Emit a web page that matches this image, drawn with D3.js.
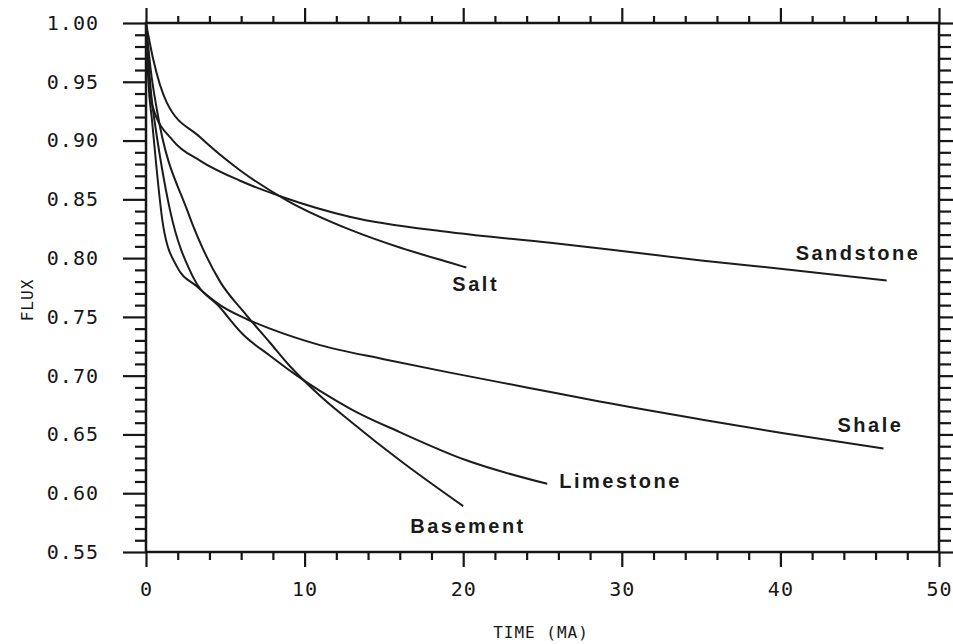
<!DOCTYPE html>
<html>
<head>
<meta charset="utf-8">
<script src="https://cdn.jsdelivr.net/npm/d3@7"></script>
<style>
  body { margin: 0; background: #fff; }
  .tick text { font-family: "DejaVu Sans Mono", monospace; font-size: 20px; letter-spacing: 1px; fill: #161616; }
  .tick line { stroke: #161616; stroke-width: 2.2px; }
  .domain { display: none; }
  .curve-label { font-family: "Liberation Sans", Arial, sans-serif; font-weight: bold; font-size: 20px; letter-spacing: 2.5px; fill: #1a1a1a; }
  .axis-title { font-family: "DejaVu Sans Mono", monospace; font-size: 16px; letter-spacing: 1px; fill: #161616; }
</style>
</head>
<body>
<div id="chart"></div>
<script>
// values: time in Ma, normalised flux
var sandstoneT = [0, 0.2, 0.44, 1.7, 3.4, 5.9, 8.6, 12.9, 19.2, 25.5, 30, 35, 40, 46.7];
var sandstoneF = [1.00, 0.96, 0.928, 0.900, 0.883, 0.866, 0.852, 0.835, 0.822, 0.813, 0.806, 0.798, 0.791, 0.781];

var saltT = [0, 0.44, 1.32, 3.4, 5.9, 8.9, 12.9, 16.0, 19.2, 20.2];
var saltF = [1.00, 0.970, 0.932, 0.903, 0.875, 0.849, 0.824, 0.809, 0.796, 0.792];

var shaleT = [0, 0.15, 0.38, 1.09, 1.94, 3.2, 4.67, 6.37, 7.82, 10.97, 15, 19, 24, 28.6, 34.9, 40.2, 46.5];
var shaleF = [1.00, 0.95, 0.917, 0.827, 0.793, 0.776, 0.760, 0.748, 0.740, 0.726, 0.714, 0.703, 0.690, 0.678, 0.663, 0.651, 0.638];

var limestoneT = [0, 0.2, 0.44, 1.51, 2.96, 4.67, 6.12, 7.82, 9.52, 10.97, 13, 16, 20.2, 25.3];
var limestoneF = [1.00, 0.95, 0.926, 0.841, 0.784, 0.758, 0.735, 0.717, 0.700, 0.687, 0.671, 0.652, 0.628, 0.608];

var basementT = [0, 0.3, 0.69, 2.59, 4.67, 6.24, 7.82, 9.08, 10.97, 13, 16.0, 20.0];
var basementF = [1.00, 0.96, 0.926, 0.841, 0.780, 0.753, 0.728, 0.708, 0.683, 0.660, 0.628, 0.589];

var seriesNames = ["Sandstone", "Salt", "Shale", "Limestone", "Basement"];
var xTicks = [0, 10, 20, 30, 40, 50];
var yTicks = [0.55, 0.60, 0.65, 0.70, 0.75, 0.80, 0.85, 0.90, 0.95, 1.00];

var series = [
  {name: seriesNames[0], t: sandstoneT, f: sandstoneF},
  {name: seriesNames[1], t: saltT, f: saltF},
  {name: seriesNames[2], t: shaleT, f: shaleF},
  {name: seriesNames[3], t: limestoneT, f: limestoneF},
  {name: seriesNames[4], t: basementT, f: basementF}
];

// where each label sits relative to the end of its curve (px)
var labelOffset = {
  Sandstone: [-91, -20],
  Salt: [-14, 23],
  Shale: [-46, -17],
  Limestone: [12, 4],
  Basement: [-53, 27]
};

var width = 953, height = 644;
var plotL = 146, plotR = 939, plotT = 23, plotB = 552;

var svg = d3.select("#chart").append("svg")
    .attr("width", width)
    .attr("height", height);

var x = d3.scaleLinear().domain([0, 50]).range([plotL, plotR]);
var y = d3.scaleLinear().domain([0.55, 1.0]).range([plotB, plotT]);

var xMinor = d3.range(0, 50.001, 2).filter(function(d) { return d % 10 !== 0; });
var yMinor = d3.range(56, 100, 1).filter(function(d) { return d % 5 !== 0; })
    .map(function(d) { return d / 100; });

// bottom
svg.append("g").attr("transform", "translate(0," + plotB + ")")
    .call(d3.axisBottom(x).tickValues(xTicks).tickSize(15).tickPadding(15).tickFormat(d3.format("d")));
svg.append("g").attr("transform", "translate(0," + plotB + ")")
    .call(d3.axisBottom(x).tickValues(xMinor).tickSize(8).tickFormat(""));
// top
svg.append("g").attr("transform", "translate(0," + plotT + ")")
    .call(d3.axisTop(x).tickValues(xTicks).tickSize(15).tickFormat(""));
svg.append("g").attr("transform", "translate(0," + plotT + ")")
    .call(d3.axisTop(x).tickValues(xMinor).tickSize(7).tickFormat(""));
// left
svg.append("g").attr("transform", "translate(" + plotL + ",0)")
    .call(d3.axisLeft(y).tickValues(yTicks).tickSize(23).tickPadding(24).tickFormat(d3.format(".2f")));
svg.append("g").attr("transform", "translate(" + plotL + ",0)")
    .call(d3.axisLeft(y).tickValues(yMinor).tickSize(11).tickFormat(""));
// right
svg.append("g").attr("transform", "translate(" + plotR + ",0)")
    .call(d3.axisRight(y).tickValues(yTicks).tickSize(23).tickFormat(""));
svg.append("g").attr("transform", "translate(" + plotR + ",0)")
    .call(d3.axisRight(y).tickValues(yMinor).tickSize(12).tickFormat(""));

// frame
svg.append("rect")
    .attr("x", plotL).attr("y", plotT)
    .attr("width", plotR - plotL).attr("height", plotB - plotT)
    .attr("fill", "none")
    .attr("stroke", "#161616")
    .attr("stroke-width", 2.5);

var line = d3.line()
    .curve(d3.curveMonotoneX)
    .x(function(d) { return x(d[0]); })
    .y(function(d) { return y(d[1]); });

series.forEach(function(s) {
  var pts = s.t.map(function(t, i) { return [t, s.f[i]]; });
  svg.append("path")
      .datum(pts)
      .attr("d", line)
      .attr("fill", "none")
      .attr("stroke", "#1c1c1c")
      .attr("stroke-width", 2)
      .attr("stroke-linejoin", "round");

  var last = pts[pts.length - 1];
  var off = labelOffset[s.name];
  svg.append("text")
      .attr("class", "curve-label")
      .attr("x", x(last[0]) + off[0])
      .attr("y", y(last[1]) + off[1])
      .text(s.name);
});

svg.append("text")
    .attr("class", "axis-title")
    .attr("text-anchor", "middle")
    .attr("x", 541)
    .attr("y", 638)
    .text("TIME (MA)");

svg.append("text")
    .attr("class", "axis-title")
    .attr("text-anchor", "middle")
    .attr("transform", "translate(33,300) rotate(-90)")
    .text("FLUX");
</script>
</body>
</html>
